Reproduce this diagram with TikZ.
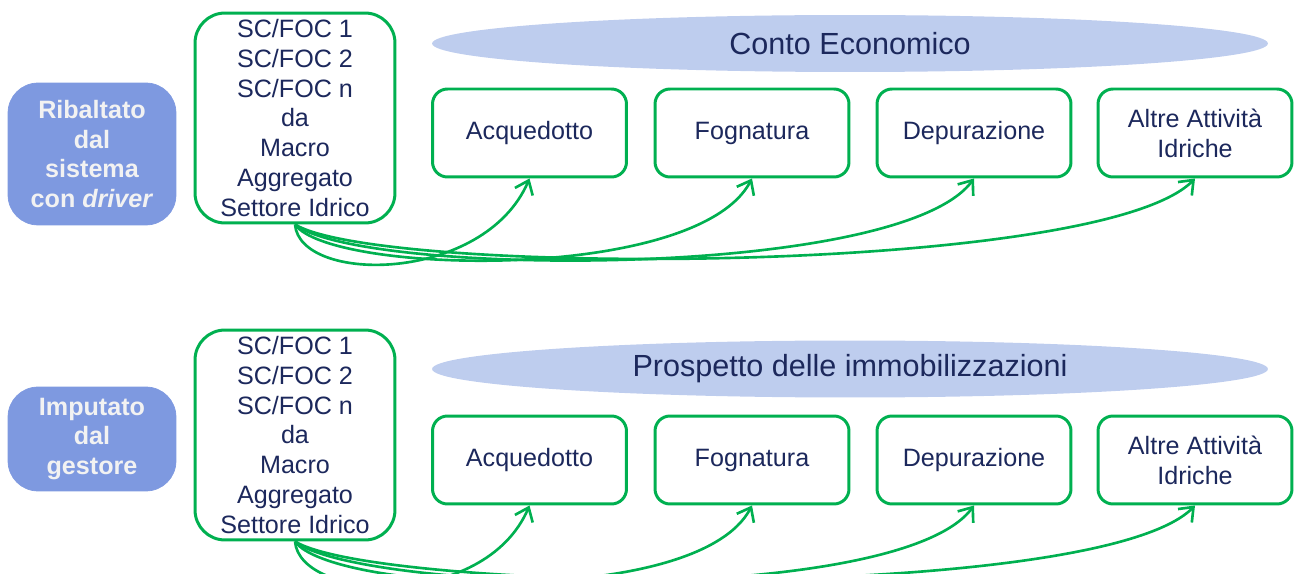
\documentclass[tikz,border=0pt]{standalone}
\usepackage{fontspec}
\setmainfont{Liberation Sans}
\usetikzlibrary{shapes.geometric,arrows.meta}
\definecolor{verde}{RGB}{0,176,80}
\definecolor{blu}{RGB}{28,40,92}
\definecolor{azzurro}{RGB}{126,153,224}
\definecolor{celeste}{RGB}{190,205,238}
\begin{document}
\begin{tikzpicture}[x=0.02cm, y=0.02cm,
  every node/.style={inner sep=0pt, align=center, font=\fontsize{14.3}{17}\selectfont, text=blu},
  fonte/.style={draw=azzurro, fill=azzurro, rounded corners=0.6cm, minimum width=3.36cm, text=white!95!black, font=\fontsize{14.3}{17}\selectfont\bfseries},
  origine/.style={draw=verde, line width=1.7pt, rounded corners=0.6cm, minimum width=4cm, minimum height=4.2cm},
  attivita/.style={draw=verde, line width=1.7pt, fill=white, rounded corners=0.3cm, minimum width=3.88cm, minimum height=1.76cm},
  prospetto/.style={ellipse, fill=celeste, minimum width=16.72cm, minimum height=1.14cm, font=\fontsize{17.4}{20}\selectfont},
  flusso/.style={draw=verde, line width=1.5pt, -{Straight Barb[length=7pt,width=11pt]}}]
\useasboundingbox (0,0) rectangle (1296,-574);
\node [fonte, minimum height=2.84cm] (rib) at (92,-154) {Ribaltato\\dal\\sistema\\con \textit{driver}};
\node [origine] (sc1) at (295,-118) {SC/FOC 1\\SC/FOC 2\\SC/FOC n\\da\\Macro\\Aggregato\\Settore Idrico};
\node [prospetto] (ce) at (850,-43.5) {Conto Economico};
\node [attivita] (acq1) at (529.5,-133) {Acquedotto};
\node [attivita] (fog1) at (752,-133) {Fognatura};
\node [attivita] (dep1) at (974,-133) {Depurazione};
\node [attivita] (alt1) at (1195,-133) {Altre Attività\\Idriche};
\draw [flusso] (sc1.south) .. controls +(5,-60) and +(-45,-105) .. (acq1.south);
\draw [flusso] (sc1.south) .. controls +(35,-50) and +(-55,-105) .. (fog1.south);
\draw [flusso] (sc1.south) .. controls +(65,-52) and +(-75,-102) .. (dep1.south);
\draw [flusso] (sc1.south) .. controls +(85,-52) and +(-95,-97) .. (alt1.south);
\node [fonte, minimum height=2.08cm] (imp) at (92,-439) {Imputato\\dal\\gestore};
\node [origine] (sc2) at (295,-435) {SC/FOC 1\\SC/FOC 2\\SC/FOC n\\da\\Macro\\Aggregato\\Settore Idrico};
\node [prospetto] (pi) at (850,-369) {Prospetto delle immobilizzazioni};
\node [attivita] (acq2) at (529.5,-460) {Acquedotto};
\node [attivita] (fog2) at (752,-460) {Fognatura};
\node [attivita] (dep2) at (974,-460) {Depurazione};
\node [attivita] (alt2) at (1195,-460) {Altre Attività\\Idriche};
\draw [flusso] (sc2.south) .. controls +(5,-60) and +(-45,-105) .. (acq2.south);
\draw [flusso] (sc2.south) .. controls +(35,-50) and +(-55,-105) .. (fog2.south);
\draw [flusso] (sc2.south) .. controls +(65,-52) and +(-75,-102) .. (dep2.south);
\draw [flusso] (sc2.south) .. controls +(85,-52) and +(-95,-97) .. (alt2.south);
\end{tikzpicture}
\end{document}
